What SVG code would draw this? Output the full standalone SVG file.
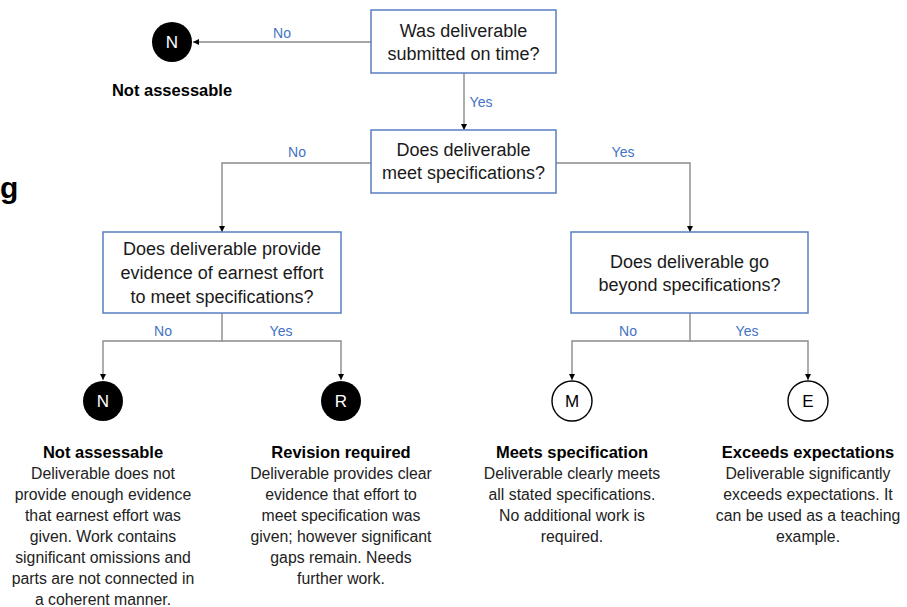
<svg xmlns="http://www.w3.org/2000/svg" width="907" height="607" viewBox="0 0 907 607">
<style>
text{font-family:"Liberation Sans",Arial,sans-serif;text-anchor:middle}
.box{fill:#fff;stroke:#5a7fc2;stroke-width:1.5}
.q{font-size:18px;fill:#1a1a1a}
.lbl{font-size:14px;fill:#4472c4}
.con{fill:none;stroke:#8a8a8a;stroke-width:1.4}
.dk{fill:#000}
.lt{fill:#fff;stroke:#000;stroke-width:1.4}
.cw{font-size:17px;fill:#fff}
.cb{font-size:17px;fill:#000}
.h{font-size:16.5px;font-weight:bold;fill:#000}
.d{font-size:15.8px;fill:#222}
</style>
<defs>
<marker id="ah" viewBox="0 0 6 6" refX="6" refY="3" markerWidth="6" markerHeight="6" markerUnits="userSpaceOnUse" orient="auto">
<path d="M0,0 L6,3 L0,6 z" fill="#000"/>
</marker>
</defs>
<text x="0" y="198" style="font-size:30px;font-weight:bold;text-anchor:start;fill:#000">g</text>
<g id="connectors">
<line class="con" x1="371" y1="42" x2="193" y2="42" marker-end="url(#ah)"/>
<line class="con" x1="464" y1="73" x2="464" y2="130" marker-end="url(#ah)"/>
<polyline class="con" points="371,163 222,163 222,232" marker-end="url(#ah)"/>
<polyline class="con" points="556,163 690,163 690,232" marker-end="url(#ah)"/>
<polyline class="con" points="222,313 222,341 103,341 103,380" marker-end="url(#ah)"/>
<polyline class="con" points="222,341 341,341 341,380" marker-end="url(#ah)"/>
<polyline class="con" points="690,313 690,341 572,341 572,380" marker-end="url(#ah)"/>
<polyline class="con" points="690,341 808,341 808,380" marker-end="url(#ah)"/>
<text class="lbl" x="282" y="38">No</text>
<text class="lbl" x="481" y="107">Yes</text>
<text class="lbl" x="297" y="157">No</text>
<text class="lbl" x="623" y="157">Yes</text>
<text class="lbl" x="163" y="336">No</text>
<text class="lbl" x="281" y="336">Yes</text>
<text class="lbl" x="628" y="336">No</text>
<text class="lbl" x="747" y="336">Yes</text>
</g>
<g id="q1">
<rect class="box" x="371" y="10" width="185" height="63"/>
<text class="q" x="463.5" y="37">Was deliverable</text>
<text class="q" x="463.5" y="60">submitted on time?</text>
</g>
<g id="q2">
<rect class="box" x="371" y="130" width="185" height="63"/>
<text class="q" x="463.5" y="156">Does deliverable</text>
<text class="q" x="463.5" y="179">meet specifications?</text>
</g>
<g id="q3">
<rect class="box" x="103" y="232" width="238" height="81"/>
<text class="q" x="222" y="255">Does deliverable provide</text>
<text class="q" x="222" y="279">evidence of earnest effort</text>
<text class="q" x="222" y="303">to meet specifications?</text>
</g>
<g id="q4">
<rect class="box" x="571" y="232" width="237" height="81"/>
<text class="q" x="689.5" y="268">Does deliverable go</text>
<text class="q" x="689.5" y="291">beyond specifications?</text>
</g>
<g id="n-top">
<circle class="dk" cx="172" cy="42" r="20"/>
<text class="cw" x="172" y="48">N</text>
<text class="h" x="172" y="96">Not assessable</text>
</g>
<g id="n-out">
<circle class="dk" cx="103" cy="401" r="20"/>
<text class="cw" x="103" y="407">N</text>
<text class="h" x="103" y="458">Not assessable</text>
<text class="d" x="103" y="479">Deliverable does not</text>
<text class="d" x="103" y="500">provide enough evidence</text>
<text class="d" x="103" y="521">that earnest effort was</text>
<text class="d" x="103" y="542">given. Work contains</text>
<text class="d" x="103" y="563">significant omissions and</text>
<text class="d" x="103" y="584">parts are not connected in</text>
<text class="d" x="103" y="605">a coherent manner.</text>
</g>
<g id="r-out">
<circle class="dk" cx="341" cy="401" r="20"/>
<text class="cw" x="341" y="407">R</text>
<text class="h" x="341" y="458">Revision required</text>
<text class="d" x="341" y="479">Deliverable provides clear</text>
<text class="d" x="341" y="500">evidence that effort to</text>
<text class="d" x="341" y="521">meet specification was</text>
<text class="d" x="341" y="542">given; however significant</text>
<text class="d" x="341" y="563">gaps remain. Needs</text>
<text class="d" x="341" y="584">further work.</text>
</g>
<g id="m-out">
<circle class="lt" cx="572" cy="401" r="20"/>
<text class="cb" x="572" y="407">M</text>
<text class="h" x="572" y="458">Meets specification</text>
<text class="d" x="572" y="479">Deliverable clearly meets</text>
<text class="d" x="572" y="500">all stated specifications.</text>
<text class="d" x="572" y="521">No additional work is</text>
<text class="d" x="572" y="542">required.</text>
</g>
<g id="e-out">
<circle class="lt" cx="808" cy="401" r="20"/>
<text class="cb" x="808" y="407">E</text>
<text class="h" x="808" y="458">Exceeds expectations</text>
<text class="d" x="808" y="479">Deliverable significantly</text>
<text class="d" x="808" y="500">exceeds expectations. It</text>
<text class="d" x="808" y="521">can be used as a teaching</text>
<text class="d" x="808" y="542">example.</text>
</g>
</svg>
